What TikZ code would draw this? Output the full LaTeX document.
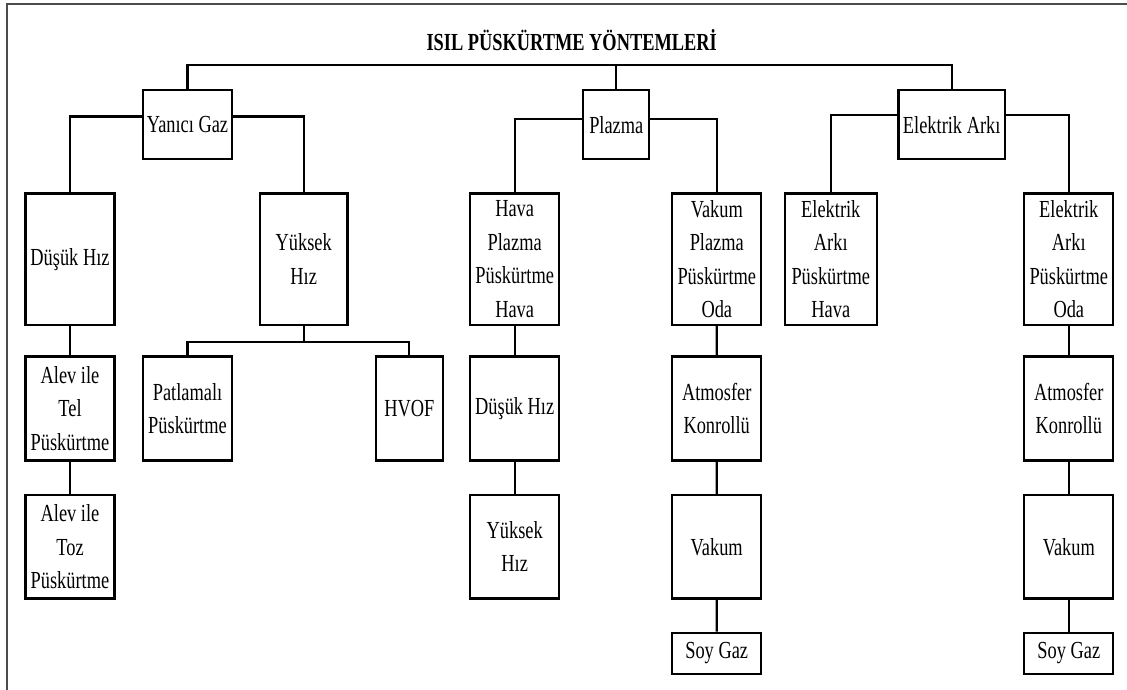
\documentclass[tikz,border=0pt]{standalone}
\usepackage{fontspec}
\setmainfont{Liberation Serif}[FakeStretch=0.75]
\usetikzlibrary{calc}

\begin{document}
\begin{tikzpicture}[x=1pt,y=-1pt,
  kutu/.style={draw,line width=2.3pt,align=center,inner sep=2pt,font=\fontsize{24.5}{33.5}\selectfont},
  ust/.style={kutu,minimum height=69.3pt},
  orta/.style={kutu,minimum width=89pt,minimum height=131.7pt},
  alt/.style={kutu,minimum width=89pt,minimum height=104pt},
  bag/.style={line width=2.3pt}]
\useasboundingbox (0,0) rectangle (1127,690);
\draw[gray!60!black,line width=1.3pt] (7,690) -- (7,4) -- (1127,4);
\node[font=\bfseries\fontsize{24.5}{30}\selectfont] (baslik) at (571.7,40) {ISIL PÜSKÜRTME YÖNTEMLERİ};
% ana gruplar
\node[ust,minimum width=89.6pt] (yg) at (187.5,124.7) {Yanıcı Gaz};
\node[ust,minimum width=66pt] (pl) at (616.3,124.7) {Plazma};
\node[ust,minimum width=106.7pt] (ea) at (951.7,124.7) {Elektrik Arkı};
% ikinci seviye
\node[orta] (dh) at (70,259.2) {Düşük Hız};
\node[orta,minimum width=87.3pt] (yh) at (303.7,259.2) {Yüksek\\Hız};
\node[orta] (hp) at (514.7,259.2) {Hava\\Plazma\\Püskürtme\\Hava};
\node[orta] (vp) at (716.8,259.2) {Vakum\\Plazma\\Püskürtme\\Oda};
\node[orta,minimum width=91.7pt] (eh) at (830.8,259.2) {Elektrik\\Arkı\\Püskürtme\\Hava};
\node[orta] (eo) at (1068.8,259.2) {Elektrik\\Arkı\\Püskürtme\\Oda};
% ucuncu seviye
\node[alt] (at) at (70,408.6) {Alev ile\\Tel\\Püskürtme};
\node[alt,minimum width=89.6pt] (pp) at (187.5,408.6) {Patlamalı\\Püskürtme};
\node[alt,minimum width=66.7pt] (hv) at (409.3,408.6) {HVOF};
\node[alt] (pd) at (514.7,408.6) {Düşük Hız};
\node[alt] (ak1) at (716.7,408.6) {Atmosfer\\Konrollü};
\node[alt] (ak2) at (1068.8,408.6) {Atmosfer\\Konrollü};
% dorduncu seviye
\node[alt,minimum height=103.3pt] (az) at (70,546.7) {Alev ile\\Toz\\Püskürtme};
\node[alt,minimum height=103.3pt] (py) at (514.7,546.7) {Yüksek\\Hız};
\node[alt,minimum height=103.3pt] (v1) at (716.7,546.7) {Vakum};
\node[alt,minimum height=103.3pt] (v2) at (1068.8,546.7) {Vakum};
\node[kutu,minimum width=89pt,minimum height=41.3pt] (sg1) at (716.7,653.3) {Soy Gaz};
\node[kutu,minimum width=89pt,minimum height=41.3pt] (sg2) at (1068.8,653.3) {Soy Gaz};
% baglantilar
\coordinate (ub) at ([yshift=24pt]pl.north);
\draw[bag] (yg.north) |- (ub) -| (ea.north);
\draw[bag] (pl.north) -- (ub);
\foreach \a/\b/\c in {yg/dh/yh,pl/hp/vp,ea/eh/eo}{
  \draw[bag] (\a.170) -| (\b.north);
  \draw[bag] (\a.10) -| (\c.north);
}
\coordinate (yb) at ([yshift=-16pt]yh.south);
\draw[bag] (yh.south) -- (yb);
\draw[bag] (pp.north) |- (yb) -| (hv.north);
\draw[bag] (dh) -- (at) -- (az);
\draw[bag] (hp) -- (pd) -- (py);
\draw[bag] (vp) -- (ak1) -- (v1) -- (sg1);
\draw[bag] (eo) -- (ak2) -- (v2) -- (sg2);
\end{tikzpicture}
\end{document}
